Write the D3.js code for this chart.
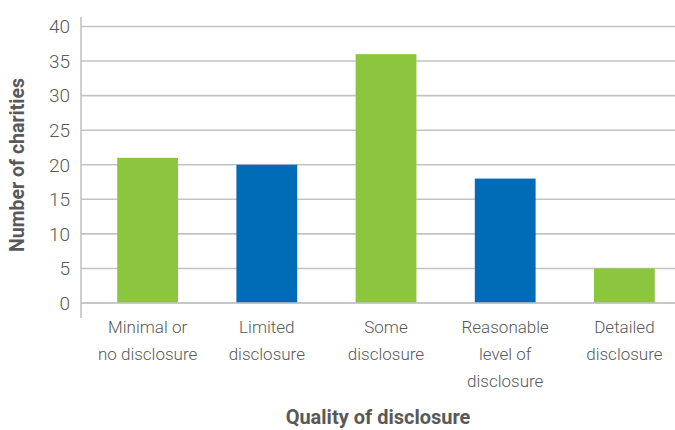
<!DOCTYPE html>
<html>
<head>
<meta charset="utf-8">
<script src="https://cdn.jsdelivr.net/npm/d3@7"></script>
<style>
  html, body { margin: 0; padding: 0; background: #fff; }
  svg { display: block; font-family: Roboto, "Liberation Sans", sans-serif; }
</style>
</head>
<body>
<svg id="chart" width="675" height="430"></svg>
<script>
// Charities by quality of disclosure
const categories = [
  ["Minimal or", "no disclosure"],
  ["Limited", "disclosure"],
  ["Some", "disclosure"],
  ["Reasonable", "level of", "disclosure"],
  ["Detailed", "disclosure"]
];
const counts = [21, 20, 36, 18, 5];
const barColors = ["#8cc63f", "#006bb6", "#8cc63f", "#006bb6", "#8cc63f"];
const yTicks = [0, 5, 10, 15, 20, 25, 30, 35, 40];
const yTitle = "Number of charities";
const xTitle = "Quality of disclosure";

const svg = d3.select("#chart");
const W = 675;
const axisX = 81, plotTop = 26.5, plotBottom = 303;

const x = d3.scaleBand()
  .domain(d3.range(categories.length))
  .range([88, 684])
  .paddingInner(0.49)
  .paddingOuter(0.245);

const y = d3.scaleLinear().domain([0, 40]).range([plotBottom, plotTop]);

const textColor = "#595959";
const gridColor = "#c3c3c3";

// Horizontal gridlines
svg.append("g")
  .selectAll("line")
  .data(yTicks)
  .join("line")
  .attr("x1", axisX)
  .attr("x2", W)
  .attr("y1", d => y(d))
  .attr("y2", d => y(d))
  .attr("stroke", gridColor)
  .attr("stroke-width", 1.6);

// Bars
svg.append("g")
  .selectAll("rect")
  .data(counts)
  .join("rect")
  .attr("x", (d, i) => x(i))
  .attr("width", x.bandwidth())
  .attr("y", d => y(d))
  .attr("height", d => y(0) - y(d))
  .attr("fill", (d, i) => barColors[i]);

// Baseline over the bars
svg.append("line")
  .attr("x1", axisX).attr("x2", W)
  .attr("y1", y(0)).attr("y2", y(0))
  .attr("stroke", gridColor).attr("stroke-width", 1.6);

// Vertical axis line
svg.append("line")
  .attr("x1", axisX).attr("x2", axisX)
  .attr("y1", 17).attr("y2", 318)
  .attr("stroke", gridColor).attr("stroke-width", 1.6);

// Y tick labels
svg.append("g")
  .selectAll("text")
  .data(yTicks)
  .join("text")
  .attr("x", 70)
  .attr("y", d => y(d))
  .attr("dy", "0.36em")
  .attr("text-anchor", "end")
  .attr("fill", textColor)
  .style("font-size", "19px")
  .style("font-weight", 300)
  .text(d => d);

// X category labels
const xl = svg.append("g")
  .selectAll("text")
  .data(categories)
  .join("text")
  .attr("text-anchor", "middle")
  .attr("fill", textColor)
  .style("font-size", "17px")
  .style("font-weight", 300)
  .attr("transform", (d, i) => `translate(${x(i) + x.bandwidth() / 2},333)`);

xl.selectAll("tspan")
  .data(d => d)
  .join("tspan")
  .attr("x", 0)
  .attr("y", (d, j) => j * 27)
  .text(d => d);

// Axis titles
svg.append("text")
  .attr("transform", "translate(24,165) rotate(-90)")
  .attr("text-anchor", "middle")
  .attr("fill", textColor)
  .style("font-size", "19.5px")
  .style("font-weight", 700)
  .text(yTitle);

svg.append("text")
  .attr("x", 378)
  .attr("y", 424)
  .attr("text-anchor", "middle")
  .attr("fill", textColor)
  .style("font-size", "20px")
  .style("font-weight", 700)
  .text(xTitle);
</script>
</body>
</html>
